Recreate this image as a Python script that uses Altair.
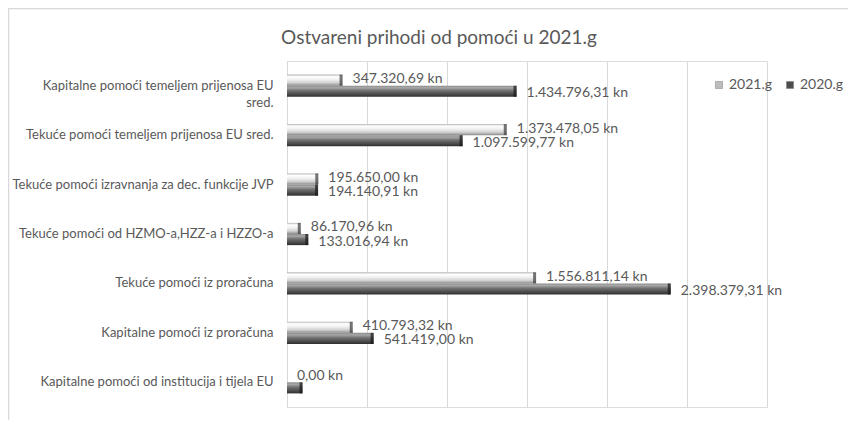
import altair as alt
import pandas as pd

title_text = "Ostvareni prihodi od pomoći u 2021.g"
categories = [
    "Kapitalne pomoći temeljem prijenosa EU sred.",
    "Tekuće pomoći temeljem prijenosa EU sred.",
    "Tekuće pomoći izravnanja za dec. funkcije JVP",
    "Tekuće pomoći od HZMO-a,HZZ-a i HZZO-a",
    "Tekuće pomoći iz proračuna",
    "Kapitalne pomoći iz proračuna",
    "Kapitalne pomoći od institucija i tijela EU",
]
series = ["2021.g", "2020.g"]
values_2021 = [347320.69, 1373478.05, 195650.00, 86170.96, 1556811.14, 410793.32, 0.00]
values_2020 = [1434796.31, 1097599.77, 194140.91, 133016.94, 2398379.31, 541419.00, 97000.00]
labels_2021 = ["347.320,69 kn", "1.373.478,05 kn", "195.650,00 kn", "86.170,96 kn",
               "1.556.811,14 kn", "410.793,32 kn", "0,00 kn"]
labels_2020 = ["1.434.796,31 kn", "1.097.599,77 kn", "194.140,91 kn", "133.016,94 kn",
               "2.398.379,31 kn", "541.419,00 kn", ""]
x_ticks = [0, 500000, 1000000, 1500000, 2000000, 2500000, 3000000]

rows = []
for c, v1, v2, l1, l2 in zip(categories, values_2021, values_2020, labels_2021, labels_2020):
    rows.append({"category": c, "series": "2021.g", "value": v1, "label": l1})
    rows.append({"category": c, "series": "2020.g", "value": v2, "label": l2})
df = pd.DataFrame(rows)

FONT = "Lato"
TXT = "#595959"

light_grad = alt.Gradient(
    gradient="linear", x1=0, x2=0, y1=0, y2=1,
    stops=[
        alt.GradientStop(color="#b5b5b5", offset=0),
        alt.GradientStop(color="#ffffff", offset=0.18),
        alt.GradientStop(color="#f0f0f0", offset=0.45),
        alt.GradientStop(color="#cfcfcf", offset=0.75),
        alt.GradientStop(color="#8a8a8a", offset=1),
    ],
)
dark_grad = alt.Gradient(
    gradient="linear", x1=0, x2=0, y1=0, y2=1,
    stops=[
        alt.GradientStop(color="#8a8a8a", offset=0),
        alt.GradientStop(color="#a8a8a8", offset=0.18),
        alt.GradientStop(color="#707070", offset=0.45),
        alt.GradientStop(color="#4d4d4d", offset=0.75),
        alt.GradientStop(color="#2e2e2e", offset=1),
    ],
)

label_expr = ("datum.value == 'Kapitalne pomoći temeljem prijenosa EU sred.' ? "
              "['Kapitalne pomoći temeljem prijenosa EU', 'sred.'] : datum.value")

x_enc = alt.X("value:Q", scale=alt.Scale(domain=[0, 3000000], nice=False),
              axis=alt.Axis(values=x_ticks, labels=False, ticks=False, domain=False,
                            title=None, grid=True, gridColor="#d9d9d9", gridWidth=1))
y_enc = alt.Y("category:N", sort=categories,
              scale=alt.Scale(domain=categories, paddingInner=0.55, paddingOuter=0.275),
              axis=alt.Axis(title=None, ticks=False, domain=False, labelPadding=14,
                            labelFont=FONT, labelFontSize=13, labelColor=TXT,
                            labelLimit=300, labelExpr=label_expr, labelLineHeight=17))
yoff_enc = alt.YOffset("series:N", scale=alt.Scale(domain=series, paddingInner=0, paddingOuter=0))

base = alt.Chart(df).encode(x=x_enc, y=y_enc, yOffset=yoff_enc)

bars21 = base.transform_filter(alt.datum.series == "2021.g").mark_bar(color=light_grad)
bars20 = base.transform_filter(alt.datum.series == "2020.g").mark_bar(color=dark_grad)

cap21 = base.transform_filter((alt.datum.series == "2021.g") & (alt.datum.value > 0)).mark_tick(
    color="#3a3a3a", thickness=3, size=11, xOffset=-1.5, orient="vertical")
cap20 = base.transform_filter((alt.datum.series == "2020.g") & (alt.datum.value > 0)).mark_tick(
    color="#151515", thickness=3, size=11, xOffset=-1.5, orient="vertical")

texts21 = base.transform_filter(alt.datum.series == "2021.g").mark_text(
    align="left", baseline="middle", dx=10, dy=-1, font=FONT, fontSize=14, color=TXT
).encode(text="label:N")
texts20 = base.transform_filter(alt.datum.series == "2020.g").mark_text(
    align="left", baseline="middle", dx=10, dy=2, font=FONT, fontSize=14, color=TXT
).encode(text="label:N")

legend_layer = base.mark_square(opacity=0).encode(
    color=alt.Color("series:N",
                    scale=alt.Scale(domain=series, range=["#bdbdbd", "#4d4d4d"]),
                    legend=alt.Legend(title=None, orient="none", legendX=425, legendY=17,
                                      direction="horizontal", symbolType="square",
                                      symbolSize=50, symbolOpacity=1,
                                      symbolStrokeColor="#7f7f7f", symbolStrokeWidth=0.5,
                                      labelFont=FONT, labelFontSize=14, labelColor=TXT,
                                      columnPadding=10, labelOffset=3))
)

one = pd.DataFrame({"t": [title_text]})
border = alt.Chart(one).mark_rect(
    fillOpacity=0, stroke="#d9d9d9", strokeWidth=1.5
).encode(x=alt.value(-278.5), x2=alt.value(700), y=alt.value(-52.5), y2=alt.value(500))

title = alt.Chart(one).mark_text(
    font=FONT, fontSize=19, color=TXT, align="center", baseline="alphabetic"
).encode(text="t:N", x=alt.value(152), y=alt.value(-17))

chart = alt.layer(border, title, bars21, bars20, cap21, cap20, texts21, texts20,
                  legend_layer).properties(
    width=480, height=346,
    autosize=alt.AutoSizeParams(type="none"),
    padding={"left": 279, "top": 53, "right": 81, "bottom": 13},
).configure_view(stroke=None).configure(background="white")

chart.save("out.html", embed_options={"renderer": "svg", "actions": False})
